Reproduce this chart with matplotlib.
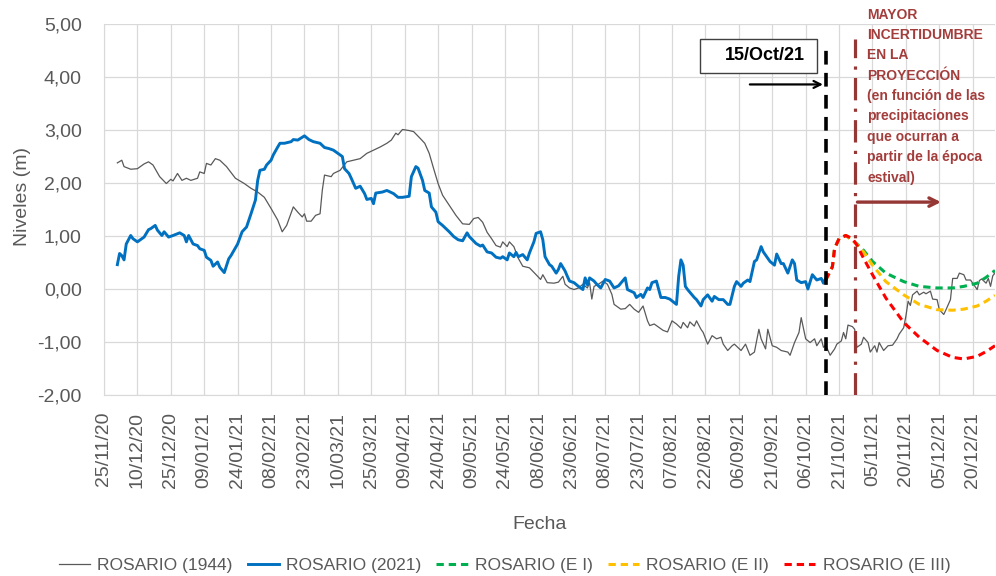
import numpy as np
import pandas as pd
import matplotlib
matplotlib.use("Agg")
import matplotlib.pyplot as plt
import matplotlib.dates as mdates
from matplotlib.patches import Rectangle

plt.rcParams["font.family"] = ["Liberation Sans", "DejaVu Sans"]

INICIO = pd.Timestamp("2020-11-25")
DIAS_EJE = 400

# ROSARIO (1944) - dias desde 25/11/20 y nivel (m)
dias_1944 = [
    6, 8, 9, 12, 15, 18, 20, 22, 25, 28, 30, 31, 33, 35, 37, 39, 42, 43, 45, 46,
    48, 50, 52, 55, 59, 63, 66, 69, 72, 75, 78, 80, 82, 85, 87, 89, 90, 91, 93, 95,
    97, 98, 99, 102, 103, 106, 109, 112, 115, 118, 121, 124, 127, 129, 131, 132, 134, 137, 139, 142,
    144, 146, 148, 150, 152, 155, 158, 161, 164, 166, 168, 170, 172, 174, 176, 178, 179, 181, 182, 184,
    186, 188, 191, 194, 196, 197, 199, 202, 204, 206, 207, 209, 211, 213, 215, 217, 218, 219, 220, 222,
    224, 226, 228, 229, 232, 234, 236, 238, 240, 242, 244, 245, 247, 249, 251, 253, 255, 257, 259, 260,
    262, 263, 265, 266, 268, 269, 271, 273, 275, 277, 278, 280, 282, 283, 286, 288, 290, 292, 294, 295,
    297, 298, 300, 302, 304, 307, 308, 310, 312, 313, 315, 317, 319, 320, 322, 323, 324, 326, 328, 329,
    331, 332, 333, 334, 336, 337, 338, 340, 341, 343, 344, 346, 347, 348, 350, 352, 354, 356, 357, 359,
    360, 361, 362, 363, 365, 366, 368, 369, 371, 372, 374, 375, 377, 378, 380, 381, 383, 384, 386, 387,
    389, 391, 392, 393, 394, 396, 397, 398, 399, 400,
]
nivel_1944 = [
    2.38, 2.43, 2.31, 2.26, 2.27, 2.36, 2.40, 2.34, 2.12, 1.99, 2.07, 2.04, 2.18, 2.05, 2.09, 2.05, 2.09, 2.21, 2.18, 2.37,
    2.34, 2.46, 2.43, 2.31, 2.09, 1.99, 1.90, 1.83, 1.73, 1.52, 1.30, 1.08, 1.20, 1.55, 1.45, 1.36, 1.42, 1.28, 1.28, 1.39,
    1.42, 1.86, 2.15, 2.12, 2.18, 2.24, 2.40, 2.43, 2.46, 2.56, 2.62, 2.68, 2.75, 2.81, 2.94, 2.91, 3.01, 2.99, 2.97, 2.84,
    2.75, 2.56, 2.27, 1.99, 1.77, 1.58, 1.39, 1.23, 1.22, 1.33, 1.35, 1.26, 1.07, 0.95, 0.82, 0.79, 0.89, 0.80, 0.89, 0.80,
    0.58, 0.43, 0.40, 0.27, 0.18, 0.27, 0.12, 0.11, 0.13, 0.24, 0.09, 0.02, -0.01, 0.02, 0.09, 0.02, 0.12, -0.19, 0.05, 0.09,
    0.15, 0.09, -0.10, -0.29, -0.38, -0.37, -0.29, -0.38, -0.44, -0.32, -0.60, -0.69, -0.66, -0.72, -0.78, -0.81, -0.60, -0.66, -0.74, -0.63,
    -0.73, -0.62, -0.70, -0.60, -0.76, -0.82, -1.04, -0.88, -0.94, -0.91, -1.04, -1.16, -1.07, -1.04, -1.16, -1.04, -1.25, -1.19, -0.76, -0.94,
    -1.13, -0.76, -1.07, -1.10, -1.16, -1.19, -1.25, -1.01, -0.82, -0.54, -0.94, -1.01, -0.94, -1.07, -0.94, -1.10, -1.06, -1.25, -1.13, -1.04,
    -0.98, -0.82, -0.94, -0.68, -0.71, -0.76, -1.10, -1.04, -0.91, -1.01, -1.19, -1.07, -1.19, -1.01, -1.16, -1.07, -1.06, -0.94, -0.85, -0.73,
    -0.51, -0.23, -0.31, -0.11, -0.04, -0.11, -0.06, -0.09, -0.04, -0.19, -0.20, -0.39, -0.48, -0.39, -0.20, 0.20, 0.20, 0.30, 0.27, 0.17,
    0.17, 0.05, -0.01, 0.16, 0.19, 0.11, 0.20, 0.05, 0.25, 0.30,
]

# ROSARIO (2021)
dias_2021 = [
    6, 7, 8, 9, 10, 12, 13, 15, 18, 20, 21, 23, 24, 26, 27, 29, 31, 34, 36, 37,
    38, 40, 42, 43, 45, 46, 48, 49, 51, 52, 54, 56, 57, 60, 62, 64, 66, 68, 69, 70,
    72, 73, 75, 76, 78, 79, 81, 84, 85, 87, 90, 92, 94, 96, 97, 99, 101, 103, 105, 107,
    108, 110, 111, 113, 115, 117, 118, 120, 121, 122, 125, 127, 130, 132, 134, 137, 138, 140, 141, 143,
    144, 146, 147, 149, 150, 152, 155, 157, 159, 161, 163, 164, 167, 169, 170, 172, 174, 176, 178, 179,
    181, 182, 184, 185, 186, 188, 190, 191, 193, 194, 196, 197, 198, 200, 201, 203, 204, 205, 207, 208,
    209, 211, 213, 215, 216, 217, 218, 220, 221, 223, 225, 227, 229, 231, 234, 235, 238, 239, 241, 242,
    244, 245, 246, 248, 250, 252, 254, 257, 258, 259, 260, 261, 262, 265, 266, 268, 269, 271, 273, 274,
    276, 278, 280, 281, 283, 284, 286, 287, 289, 290, 292, 293, 295, 296, 298, 299, 301, 302, 304, 305,
    307, 309, 310, 311, 313, 315, 316, 318, 320, 322, 323, 324,
]
nivel_2021 = [
    0.46, 0.67, 0.63, 0.55, 0.85, 1.01, 0.95, 0.89, 0.98, 1.12, 1.14, 1.20, 1.11, 1.01, 1.08, 0.98, 1.01, 1.06, 1.01, 0.89,
    1.01, 0.85, 0.82, 0.76, 0.73, 0.60, 0.54, 0.43, 0.51, 0.41, 0.31, 0.57, 0.63, 0.85, 1.08, 1.17, 1.42, 1.68, 2.05, 2.24,
    2.26, 2.34, 2.43, 2.53, 2.68, 2.75, 2.75, 2.78, 2.82, 2.81, 2.89, 2.82, 2.78, 2.76, 2.75, 2.67, 2.65, 2.62, 2.56, 2.50,
    2.27, 2.18, 2.09, 1.90, 1.94, 1.80, 1.69, 1.71, 1.61, 1.81, 1.83, 1.86, 1.80, 1.73, 1.73, 1.75, 2.12, 2.31, 2.28, 2.05,
    1.86, 1.81, 1.55, 1.45, 1.27, 1.20, 1.08, 0.99, 0.93, 0.91, 1.06, 0.99, 0.86, 0.81, 0.83, 0.70, 0.68, 0.60, 0.58, 0.61,
    0.55, 0.68, 0.61, 0.69, 0.61, 0.65, 0.55, 0.68, 0.89, 1.05, 1.08, 0.93, 0.61, 0.46, 0.43, 0.30, 0.37, 0.48, 0.34, 0.24,
    0.15, 0.12, 0.05, -0.01, 0.21, 0.08, 0.21, 0.15, 0.10, 0.02, 0.18, 0.15, 0.02, 0.06, 0.21, -0.01, -0.07, -0.16, -0.10, -0.16,
    0.02, -0.01, 0.12, 0.15, -0.16, -0.16, -0.19, -0.29, 0.24, 0.55, 0.45, 0.05, -0.01, -0.16, -0.20, -0.32, -0.20, -0.11, -0.23, -0.14,
    -0.20, -0.20, -0.29, -0.29, 0.05, 0.14, 0.05, 0.11, 0.17, 0.14, 0.52, 0.55, 0.80, 0.70, 0.58, 0.52, 0.45, 0.66, 0.48, 0.48,
    0.30, 0.55, 0.48, 0.17, 0.12, 0.14, 0.00, 0.27, 0.17, 0.20, 0.11, 0.20,
]

# Escenarios de proyeccion
dias_proy = [324, 327, 328, 330, 333, 336, 338, 341, 345, 351, 359, 366, 374, 381, 386, 392, 396, 400]
nivel_e1 = [0.17, 0.42, 0.77, 0.95, 1.01, 0.92, 0.85, 0.73, 0.52, 0.30, 0.14, 0.05, 0.02, 0.02, 0.05, 0.11, 0.22, 0.35]
nivel_e2 = [0.17, 0.42, 0.77, 0.95, 1.01, 0.92, 0.84, 0.70, 0.45, 0.14, -0.11, -0.29, -0.39, -0.40, -0.38, -0.32, -0.23, -0.12]
nivel_e3 = [0.17, 0.42, 0.77, 0.95, 1.01, 0.95, 0.83, 0.58, 0.27, -0.17, -0.63, -0.91, -1.16, -1.29, -1.32, -1.27, -1.18, -1.07]

DIA_CORTE = 324      # 15/Oct/21
DIA_INCERT = 337

y_ticks = [-2, -1, 0, 1, 2, 3, 4, 5]
y_labels = ["-2,00", "-1,00", "0,00", "1,00", "2,00", "3,00", "4,00", "5,00"]
x_ticks = pd.date_range(INICIO, periods=27, freq="15D")

GRIS_TXT = "#595959"
MARRON = "#953735"


def fechas(dias):
    return INICIO + pd.to_timedelta(np.asarray(dias), unit="D")


def dnum(dia):
    return mdates.date2num(INICIO + pd.Timedelta(days=dia))


fig = plt.figure(figsize=(9.96, 5.76), dpi=100)
ax = fig.add_axes([0.1044, 0.3142, 0.8946, 0.6441])

ax.plot(fechas(dias_1944), nivel_1944, color="#595959", lw=0.9, label="ROSARIO (1944)", zorder=3)
ax.plot(fechas(dias_2021), nivel_2021, color="#0070C0", lw=2.1, label="ROSARIO (2021)", zorder=4)
dash = (0, (2.4, 1.6))
ax.plot(fechas(dias_proy), nivel_e1, color="#00B050", lw=2.2, ls=dash, label="ROSARIO (E I)", zorder=5)
ax.plot(fechas(dias_proy), nivel_e2, color="#FFC000", lw=2.2, ls=dash, label="ROSARIO (E II)", zorder=6)
ax.plot(fechas(dias_proy), nivel_e3, color="#FF0000", lw=2.2, ls=dash, label="ROSARIO (E III)", zorder=7)

# lineas verticales
ax.plot([dnum(DIA_CORTE)] * 2, [-2, 4.55], color="black", lw=2.6, ls=(0, (3.8, 2.3)), zorder=8)
ax.plot([dnum(DIA_INCERT)] * 2, [-2, 4.72], color=MARRON, lw=2.3, ls=(0, (7, 2.6, 1, 2.6)), zorder=8)

# caja fecha de corte
ax.add_patch(Rectangle((dnum(267.6), 4.08), dnum(320.1) - dnum(267.6), 0.63,
                       facecolor="white", edgecolor="#404040", lw=1.0, zorder=9))
ax.text(dnum(296.5), 4.40, "15/Oct/21", ha="center", va="center",
        fontsize=13, fontweight="bold", color="black", zorder=10)
ax.annotate("", xy=(dnum(DIA_CORTE), 3.86), xytext=(dnum(288.7), 3.86),
            arrowprops=dict(arrowstyle="->,head_length=0.5,head_width=0.25", lw=1.6, color="black"),
            zorder=10)
ax.annotate("", xy=(dnum(377), 1.64), xytext=(dnum(DIA_INCERT), 1.64),
            arrowprops=dict(arrowstyle="->,head_length=0.6,head_width=0.3", lw=2.4, color=MARRON),
            zorder=10)
ax.text(dnum(342.6), 5.31,
        "MAYOR\nINCERTIDUMBRE\nEN LA\nPROYECCIÓN\n(en función de las\nprecipitaciones\n"
        "que ocurran a\npartir de la época\nestival)",
        ha="left", va="top", fontsize=10, fontweight="bold", color="#A33D3C",
        linespacing=1.58, clip_on=False, zorder=10)

ax.set_xlim(dnum(0), dnum(DIAS_EJE))
ax.set_ylim(-2, 5)
ax.set_yticks(y_ticks)
ax.set_yticklabels(y_labels)
ax.set_xticks(mdates.date2num(x_ticks))
ax.set_xticklabels([d.strftime("%d/%m/%y") for d in x_ticks], rotation=90)
ax.tick_params(axis="y", length=0, pad=16, labelsize=14, labelcolor=GRIS_TXT)
ax.tick_params(axis="x", length=0, pad=12, labelsize=14, labelcolor=GRIS_TXT)
ax.grid(True, color="#D9D9D9", lw=0.9)
ax.set_axisbelow(True)
for side in ["top", "right"]:
    ax.spines[side].set_visible(False)
for side in ["left", "bottom"]:
    ax.spines[side].set_color("#D9D9D9")

ax.set_ylabel("Niveles (m)", fontsize=14, color=GRIS_TXT)
ax.yaxis.label.set_va("center")
ax.yaxis.set_label_coords(-0.092, 0.536)
ax.set_xlabel("Fecha", fontsize=14, color=GRIS_TXT)
ax.xaxis.label.set_va("center")
ax.xaxis.set_label_coords(0.489, -0.35)

handles, labels = ax.get_legend_handles_labels()
fig.legend(handles, labels, loc="center", bbox_to_anchor=(0.5065, 0.019), ncol=5,
           frameon=False, fontsize=12.5, handlelength=1.8, handletextpad=0.43,
           columnspacing=0.85, labelcolor=GRIS_TXT)

fig.savefig("out.png", dpi=100)
